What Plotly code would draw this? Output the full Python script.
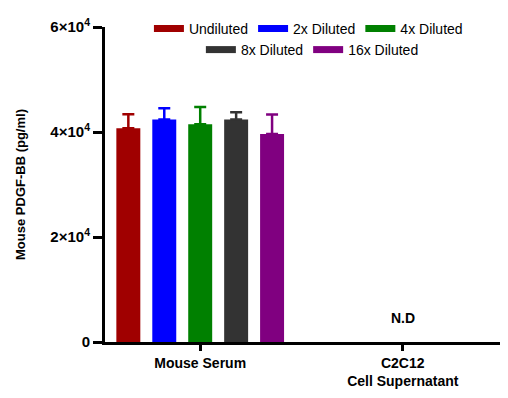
import plotly.graph_objects as go

categories = ["Mouse Serum", "C2C12<br>Cell Supernatant"]
series_names = ["Undiluted", "2x Diluted", "4x Diluted", "8x Diluted", "16x Diluted"]
series_colors = ["#A00000", "#0000FF", "#008000", "#333333", "#800080"]
means = [40700, 42400, 41500, 42400, 39600]
errors = [2700, 2100, 3250, 1350, 3750]
y_tickvals = [0, 20000, 40000, 60000]
y_ticktext = ["<b>0</b>", "<b>2×10<sup>4</sup></b>", "<b>4×10<sup>4</sup></b>", "<b>6×10<sup>4</sup></b>"]
nd_label = "N.D"
nd_y = 4600

FONT = "Arial, Liberation Sans"

fig = go.Figure()
for name, color, m, e in zip(series_names, series_colors, means, errors):
    fig.add_trace(go.Bar(
        x=categories, y=[m, None], name=name, marker_color=color,
        marker_line_width=0, showlegend=False,
        error_y=dict(type="data", array=[e, 0], arrayminus=[0, 0], symmetric=False,
                     color=color, thickness=2.5, width=6),
    ))

for i, (name, color) in enumerate(zip(series_names, series_colors)):
    fig.add_trace(go.Scatter(
        x=[None], y=[None], mode="lines", name=name,
        line=dict(color=color, width=7),
        legend="legend" if i < 3 else "legend2",
    ))

fig.add_annotation(x=1, y=nd_y, text="<b>" + nd_label + "</b>", showarrow=False,
                   font=dict(size=14, color="black", family=FONT))

fig.update_layout(
    width=508, height=398,
    margin=dict(l=97, r=16, t=19, b=64, autoexpand=False),
    plot_bgcolor="white", paper_bgcolor="white",
    barmode="group", bargap=0.113, bargroupgap=0.333,
    font=dict(family=FONT, color="black"),
    legend=dict(orientation="h", x=0.515, xanchor="center", y=0.994, yanchor="middle",
                font=dict(size=14), bgcolor="rgba(0,0,0,0)", itemwidth=30, tracegroupgap=0),
    legend2=dict(orientation="h", x=0.525, xanchor="center", y=0.927, yanchor="middle",
                 font=dict(size=14), bgcolor="rgba(0,0,0,0)", itemwidth=30, tracegroupgap=0),
    xaxis=dict(range=[-0.47, 1.48], showline=True, linecolor="black", linewidth=3,
               ticks="outside", ticklen=6, tickwidth=3, tickcolor="black",
               tickfont=dict(size=14), showgrid=False, zeroline=False,
               tickmode="array", tickvals=categories,
               ticktext=["<b>Mouse Serum</b>", "<b>C2C12<br>Cell Supernatant</b>"]),
    yaxis=dict(range=[0, 60000], showline=True, linecolor="black", linewidth=3,
               ticks="outside", ticklen=9, tickwidth=3, tickcolor="black",
               tickvals=y_tickvals, ticktext=y_ticktext, tickfont=dict(size=15),
               showgrid=False, zeroline=False,
               title=dict(text="<b>Mouse PDGF-BB (pg/ml)</b>", font=dict(size=13), standoff=22)),
)

fig.write_html("out.html")
